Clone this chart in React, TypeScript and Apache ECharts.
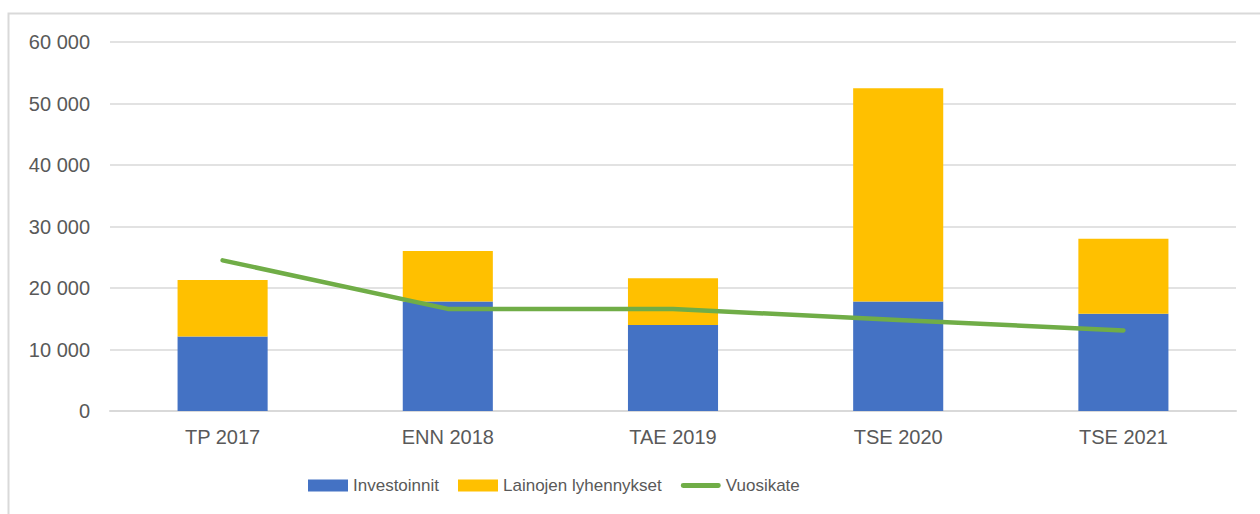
import React, { useEffect, useRef } from "react";
import * as echarts from "echarts";

const categories = ["TP 2017", "ENN 2018", "TAE 2019", "TSE 2020", "TSE 2021"];
const investoinnit = [12100, 17800, 14000, 17800, 15800];
const lainojenLyhennykset = [9200, 8200, 7600, 34700, 12200];
const vuosikate = [24500, 16600, 16600, 14800, 13100];

const fmt = (v: number) => String(v).replace(/\B(?=(\d{3})+(?!\d))/g, " ");

const lineIcon =
  "path://M2.5,0 L39.5,0 A2.5,2.5 0 0 1 39.5,5 L2.5,5 A2.5,2.5 0 0 1 2.5,0 Z";

export default function App() {
  const ref = useRef<HTMLDivElement>(null);
  useEffect(() => {
    const chart = echarts.init(ref.current!, null, { renderer: "svg" });
    chart.setOption({
      animation: false,
      backgroundColor: "#ffffff",
      textStyle: { fontFamily: "Liberation Sans, Arial, sans-serif" },
      graphic: [
        {
          type: "rect",
          shape: { x: 8.5, y: 13.5, width: 1400, height: 700 },
          style: { fill: "none", stroke: "#d9d9d9", lineWidth: 2 },
          silent: true,
        },
      ],
      grid: { left: 110, right: 24, top: 42, bottom: 103 },
      legend: {
        left: 308,
        top: 477,
        padding: 0,
        itemWidth: 40,
        itemHeight: 12,
        itemGap: 19,
        symbolKeepAspect: true,
        textStyle: {
          fontFamily: "Liberation Sans, Arial, sans-serif",
          fontSize: 17,
          color: "#595959",
        },
        data: [
          { name: "Investoinnit", icon: "rect" },
          { name: "Lainojen lyhennykset", icon: "rect" },
          { name: "Vuosikate", icon: lineIcon, symbolKeepAspect: true, itemStyle: { color: "#70AD47" } },
        ],
      },
      xAxis: {
        type: "category",
        data: categories,
        axisLine: { lineStyle: { color: "#d9d9d9", width: 2 } },
        axisTick: { show: false },
        axisLabel: { color: "#595959", fontSize: 20, margin: 16 },
      },
      yAxis: {
        type: "value",
        min: 0,
        max: 60000,
        interval: 10000,
        axisLine: { show: false },
        axisTick: { show: false },
        splitLine: { lineStyle: { color: "#d9d9d9", width: 1.5 } },
        axisLabel: { color: "#595959", fontSize: 20, margin: 20, formatter: (v: number) => fmt(v) },
      },
      series: [
        {
          name: "Investoinnit",
          type: "bar",
          stack: "a",
          barWidth: "40%",
          data: investoinnit,
          itemStyle: { color: "#4472C4" },
        },
        {
          name: "Lainojen lyhennykset",
          type: "bar",
          stack: "a",
          barWidth: "40%",
          data: lainojenLyhennykset,
          itemStyle: { color: "#FFC000" },
        },
        {
          name: "Vuosikate",
          type: "line",
          data: vuosikate,
          symbol: "none",
          lineStyle: { color: "#70AD47", width: 4.5, cap: "round", join: "round" },
          itemStyle: { color: "#70AD47" },
        },
      ],
    });
    return () => chart.dispose();
  }, []);
  return (
    <div
      ref={ref}
      style={{ position: "absolute", left: 0, top: 0, width: 1260, height: 514 }}
    />
  );
}
